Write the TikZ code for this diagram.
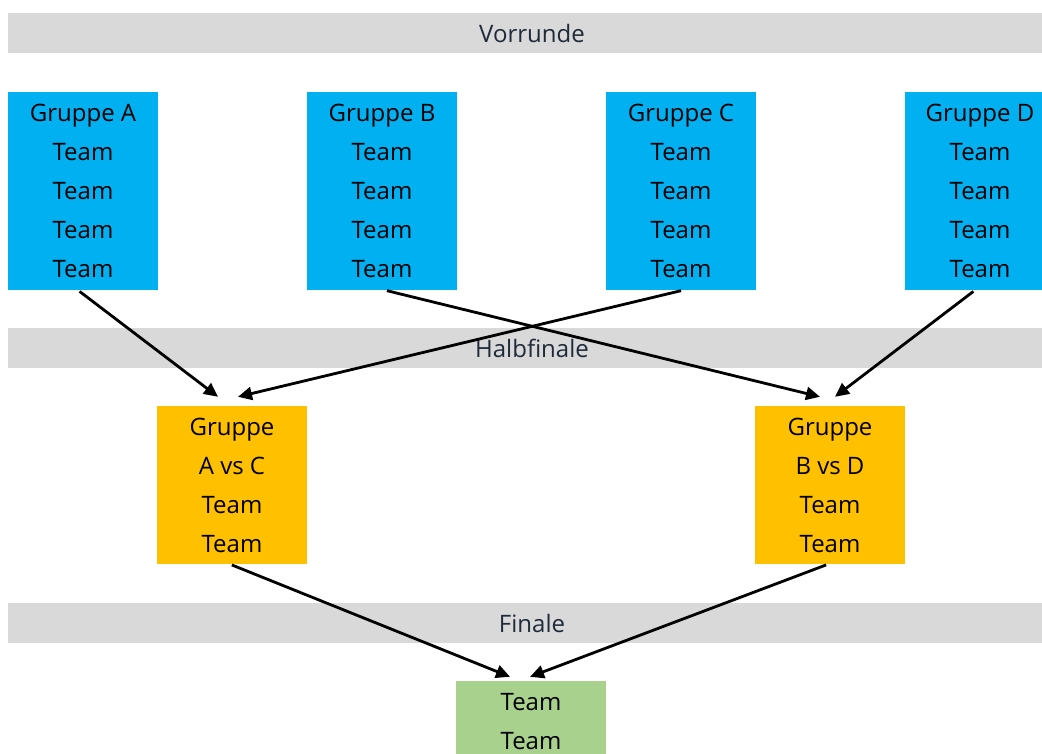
\documentclass[tikz,border=0pt]{standalone}
\usepackage{fontspec}
\setmainfont{Open Sans}
\usetikzlibrary{arrows.meta}

\definecolor{barfill}{HTML}{D9D9D9}
\definecolor{bartext}{HTML}{1F2A3A}
\definecolor{grpblue}{HTML}{00B0F0}
\definecolor{hforange}{HTML}{FFC000}
\definecolor{fingreen}{HTML}{A9D18E}

\tikzset{
  boxfont/.style={font=\fontsize{24}{39}\selectfont},
  grpbox/.style={rectangle,fill=grpblue,inner sep=0pt,align=center,
    minimum width=150pt,minimum height=198pt,boxfont},
  hfbox/.style={grpbox,fill=hforange,minimum height=158pt},
  finbox/.style={grpbox,fill=fingreen,minimum height=82pt},
}

\begin{document}
\begin{tikzpicture}[x=1pt,y=-1pt]

      \clip (0,0) rectangle (1042,753);

      \begin{scope}[every node/.style={rectangle,fill=barfill,inner sep=0pt,
          minimum width=1048pt,minimum height=40pt,text=bartext,boxfont}]
        \node (vr) at (532,33)  {Vorrunde};
        \node (hf) at (532,348) {Halbfinale};
        \node (fi) at (532,623) {Finale};
      \end{scope}

      \node[grpbox] (A) at (83,191)  {Gruppe A\\Team\\Team\\Team\\Team};
      \node[grpbox] (B) at (382,191) {Gruppe B\\Team\\Team\\Team\\Team};
      \node[grpbox] (C) at (681,191) {Gruppe C\\Team\\Team\\Team\\Team};
      \node[grpbox] (D) at (980,191) {Gruppe D\\Team\\Team\\Team\\Team};

      \node[hfbox] (AC) at (232,485) {Gruppe\\A vs C\\Team\\Team};
      \node[hfbox] (BD) at (830,485) {Gruppe\\B vs D\\Team\\Team};

      \node[finbox] (F) at (531,722) {Team\\Team};

      \begin{scope}[every edge/.style={draw,line width=2.8pt,
          -{Triangle[length=14pt,width=13pt]},shorten <=2pt}]
        \path ([xshift=-5pt]A.south) edge ([xshift=-14pt,yshift=9pt]AC.north);
        \path ([xshift=2pt]C.south)  edge ([xshift=6pt,yshift=9pt]AC.north);
        \path ([xshift=3pt]B.south)  edge ([xshift=-10pt,yshift=9pt]BD.north);
        \path ([xshift=-5pt]D.south) edge ([xshift=5pt,yshift=9pt]BD.north);
        \path ([xshift=-2pt]AC.south) edge ([xshift=-21pt,yshift=4pt]F.north);
        \path ([xshift=-2pt]BD.south) edge ([xshift=-1pt,yshift=4pt]F.north);
      \end{scope}

    \end{tikzpicture}
\end{document}
